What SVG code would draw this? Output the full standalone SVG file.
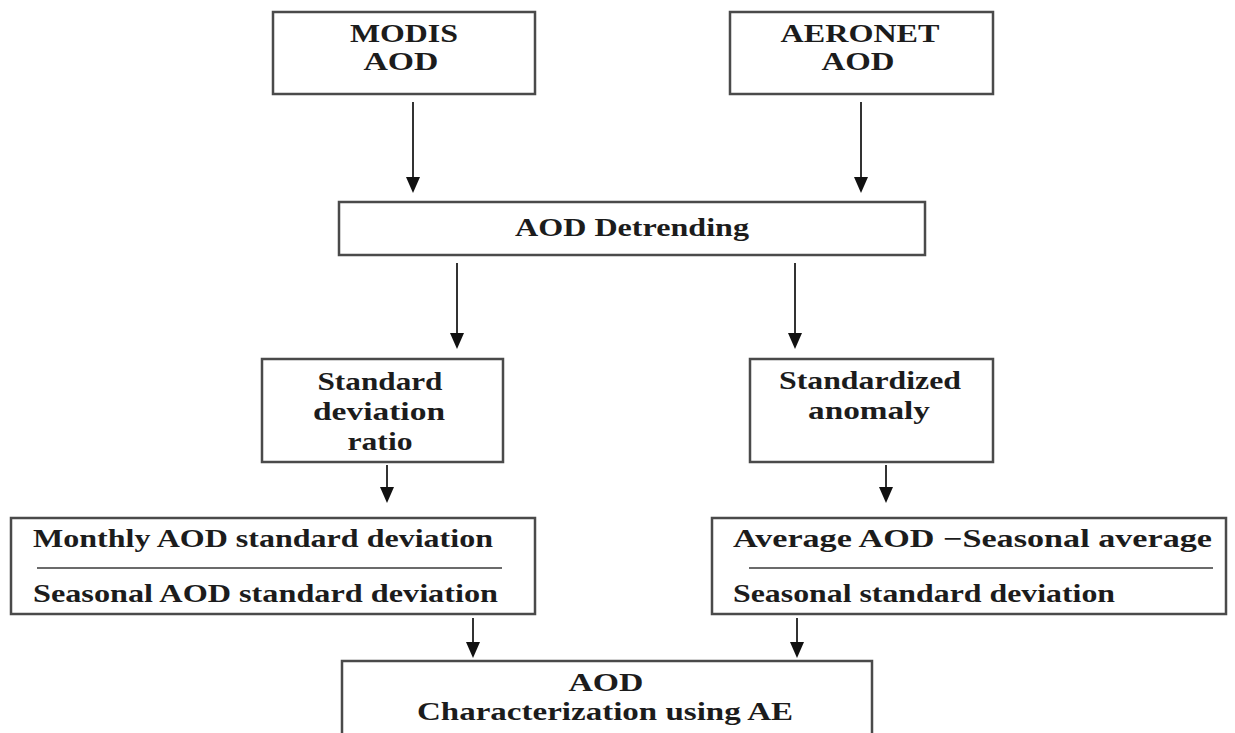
<svg xmlns="http://www.w3.org/2000/svg" width="1235" height="733" viewBox="0 0 1235 733">
  <style>
    .box { fill: #ffffff; stroke: #4a4a4a; stroke-width: 2.5; }
    .t { font-family: "Liberation Serif", "Times New Roman", serif; font-weight: bold; font-size: 25px; fill: #1c1c1c; text-anchor: middle; }
    .tl { font-family: "Liberation Serif", "Times New Roman", serif; font-weight: bold; font-size: 25px; fill: #1c1c1c; text-anchor: start; }
    .conn { stroke: #333333; stroke-width: 2; fill: none; marker-end: url(#arrow); }
    .div { stroke: #3a3a3a; stroke-width: 1.6; }
  </style>
  <defs>
    <marker id="arrow" markerUnits="userSpaceOnUse" markerWidth="16" markerHeight="14" viewBox="0 0 16 14" refX="13" refY="7" orient="auto">
      <path d="M0,0 L16,7 L0,14 z" fill="#111111"/>
    </marker>
  </defs>
  <rect width="1235" height="733" fill="#ffffff"/>

  <g id="connectors">
    <line class="conn" x1="413" y1="102" x2="413" y2="190"/>
    <line class="conn" x1="861" y1="102" x2="861" y2="190"/>
    <line class="conn" x1="457" y1="263" x2="457" y2="346"/>
    <line class="conn" x1="795" y1="263" x2="795" y2="346"/>
    <line class="conn" x1="387" y1="465" x2="387" y2="500"/>
    <line class="conn" x1="886" y1="465" x2="886" y2="500"/>
    <line class="conn" x1="473" y1="618" x2="473" y2="655"/>
    <line class="conn" x1="797" y1="618" x2="797" y2="655"/>
  </g>

  <g id="modis">
    <rect class="box" x="273" y="12" width="262" height="82"/>
    <text class="t" x="404" y="42" textLength="108" lengthAdjust="spacingAndGlyphs">MODIS</text>
    <text class="t" x="401" y="70" textLength="75" lengthAdjust="spacingAndGlyphs">AOD</text>
  </g>

  <g id="aeronet">
    <rect class="box" x="730" y="12" width="263" height="82"/>
    <text class="t" x="860" y="42" textLength="159" lengthAdjust="spacingAndGlyphs">AERONET</text>
    <text class="t" x="858" y="70" textLength="73" lengthAdjust="spacingAndGlyphs">AOD</text>
  </g>

  <g id="detrending">
    <rect class="box" x="339" y="202" width="586" height="53"/>
    <text class="t" x="632" y="236" textLength="234" lengthAdjust="spacingAndGlyphs">AOD Detrending</text>
  </g>

  <g id="sd-ratio">
    <rect class="box" x="262" y="359" width="241" height="103"/>
    <text class="t" x="380" y="390" textLength="125" lengthAdjust="spacingAndGlyphs">Standard</text>
    <text class="t" x="379" y="420" textLength="132" lengthAdjust="spacingAndGlyphs">deviation</text>
    <text class="t" x="380" y="450" textLength="65" lengthAdjust="spacingAndGlyphs">ratio</text>
  </g>

  <g id="std-anomaly">
    <rect class="box" x="750" y="359" width="243" height="103"/>
    <text class="t" x="870" y="389" textLength="182" lengthAdjust="spacingAndGlyphs">Standardized</text>
    <text class="t" x="869" y="419" textLength="122" lengthAdjust="spacingAndGlyphs">anomaly</text>
  </g>

  <g id="ratio-formula">
    <rect class="box" x="11" y="518" width="524" height="96"/>
    <text class="tl" x="33" y="547" textLength="460" lengthAdjust="spacingAndGlyphs">Monthly AOD standard deviation</text>
    <line class="div" x1="37" y1="568" x2="502" y2="568"/>
    <text class="tl" x="33" y="602" textLength="465" lengthAdjust="spacingAndGlyphs">Seasonal AOD standard deviation</text>
  </g>

  <g id="anomaly-formula">
    <rect class="box" x="712" y="518" width="514" height="96"/>
    <text class="tl" x="733" y="547" textLength="479" lengthAdjust="spacingAndGlyphs">Average AOD −Seasonal average</text>
    <line class="div" x1="749" y1="568" x2="1213" y2="568"/>
    <text class="tl" x="733" y="602" textLength="382" lengthAdjust="spacingAndGlyphs">Seasonal standard deviation</text>
  </g>

  <g id="characterization">
    <rect class="box" x="342" y="661" width="530" height="90"/>
    <text class="t" x="606" y="691" textLength="75" lengthAdjust="spacingAndGlyphs">AOD</text>
    <text class="t" x="605" y="720" textLength="376" lengthAdjust="spacingAndGlyphs">Characterization using AE</text>
  </g>
</svg>
